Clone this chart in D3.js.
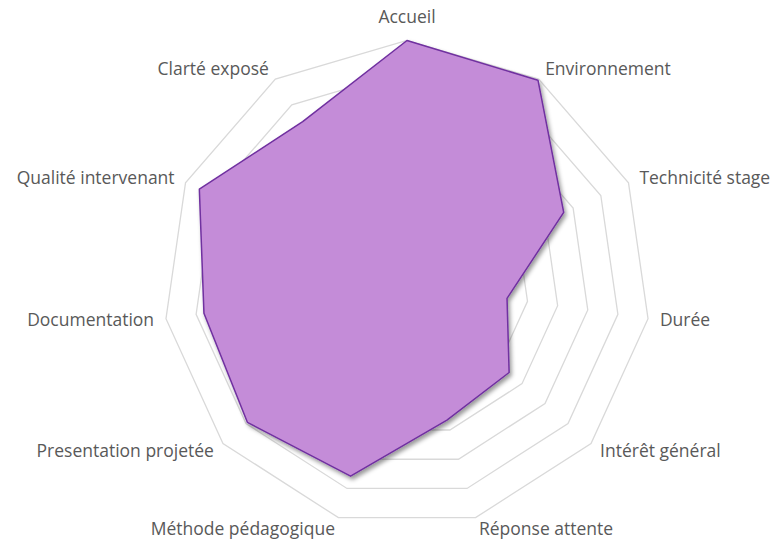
<!DOCTYPE html>
<html>
<head>
<meta charset="utf-8">
<script src="https://cdn.jsdelivr.net/npm/d3@7"></script>
<style>
  body { margin: 0; background: #fff; }
</style>
</head>
<body>
<script>
// données du radar
const categories = ["Accueil", "Environnement", "Technicité stage", "Durée", "Intérêt général",
    "Réponse attente", "Méthode pédagogique", "Presentation projetée", "Documentation",
    "Qualité intervenant", "Clarté exposé"];
const valeurs = [4.0, 3.98, 2.83, 1.66, 2.22, 2.33, 3.29, 3.47, 3.37, 3.75, 3.17];
const niveaux = [0.5, 1, 1.5, 2, 2.5, 3, 3.5, 4];

const largeur = 774;
const hauteur = 542;
const cx = 407, cy = 284;
const rayon = 243.5;

let canevas = d3.select("body")
    .append("svg")
    .attr("width", largeur)
    .attr("height", hauteur);

// ombre portée
const defs = canevas.append("defs");
defs.append("filter")
    .attr("id", "ombre")
    .attr("x", "-10%").attr("y", "-10%")
    .attr("width", "120%").attr("height", "120%")
    .append("feDropShadow")
    .attr("dx", 2).attr("dy", 3)
    .attr("stdDeviation", 2)
    .attr("flood-color", "#000")
    .attr("flood-opacity", 0.4);

const r = d3.scaleLinear()
    .domain([0, d3.max(niveaux)])
    .range([0, rayon]);

const angle = d3.scalePoint()
    .domain(categories)
    .range([0, 2 * Math.PI * (categories.length - 1) / categories.length]);

const g = canevas.append("g")
    .attr("transform", `translate(${cx},${cy})`);

// grille
const ligneRadar = d3.lineRadial()
    .angle(d => angle(d.cat))
    .radius(d => r(d.v))
    .curve(d3.curveLinearClosed);

g.selectAll("path.grille")
    .data(niveaux)
    .enter()
    .append("path")
    .attr("class", "grille")
    .attr("d", n => ligneRadar(categories.map(c => ({cat: c, v: n}))))
    .attr("fill", "none")
    .attr("stroke", "#d9d9d9")
    .attr("stroke-width", 1.3);

// série
const points = categories.map((c, i) => ({cat: c, v: valeurs[i]}));
g.append("path")
    .attr("d", ligneRadar(points))
    .attr("fill", "#c48cd8")
    .attr("stroke", "#7030a0")
    .attr("stroke-width", 1.5)
    .attr("stroke-linejoin", "round")
    .attr("filter", "url(#ombre)");

// étiquettes
g.selectAll("text.etiquette")
    .data(categories)
    .enter()
    .append("text")
    .attr("class", "etiquette")
    .each(function (c) {
        const a = angle(c);
        const s = Math.sin(a), co = -Math.cos(a);
        const d = rayon + 12;
        const t = d3.select(this)
            .attr("x", s * d)
            .attr("y", co * d);
        if (Math.abs(s) < 0.1) {
            t.attr("text-anchor", "middle").attr("dy", "-0.3em");
        } else {
            t.attr("text-anchor", s > 0 ? "start" : "end").attr("dy", "0.35em");
        }
    })
    .style("font-family", "'Open Sans', sans-serif")
    .style("font-size", "17.5px")
    .style("fill", "#595959")
    .text(d => d);
</script>
</body>
</html>
